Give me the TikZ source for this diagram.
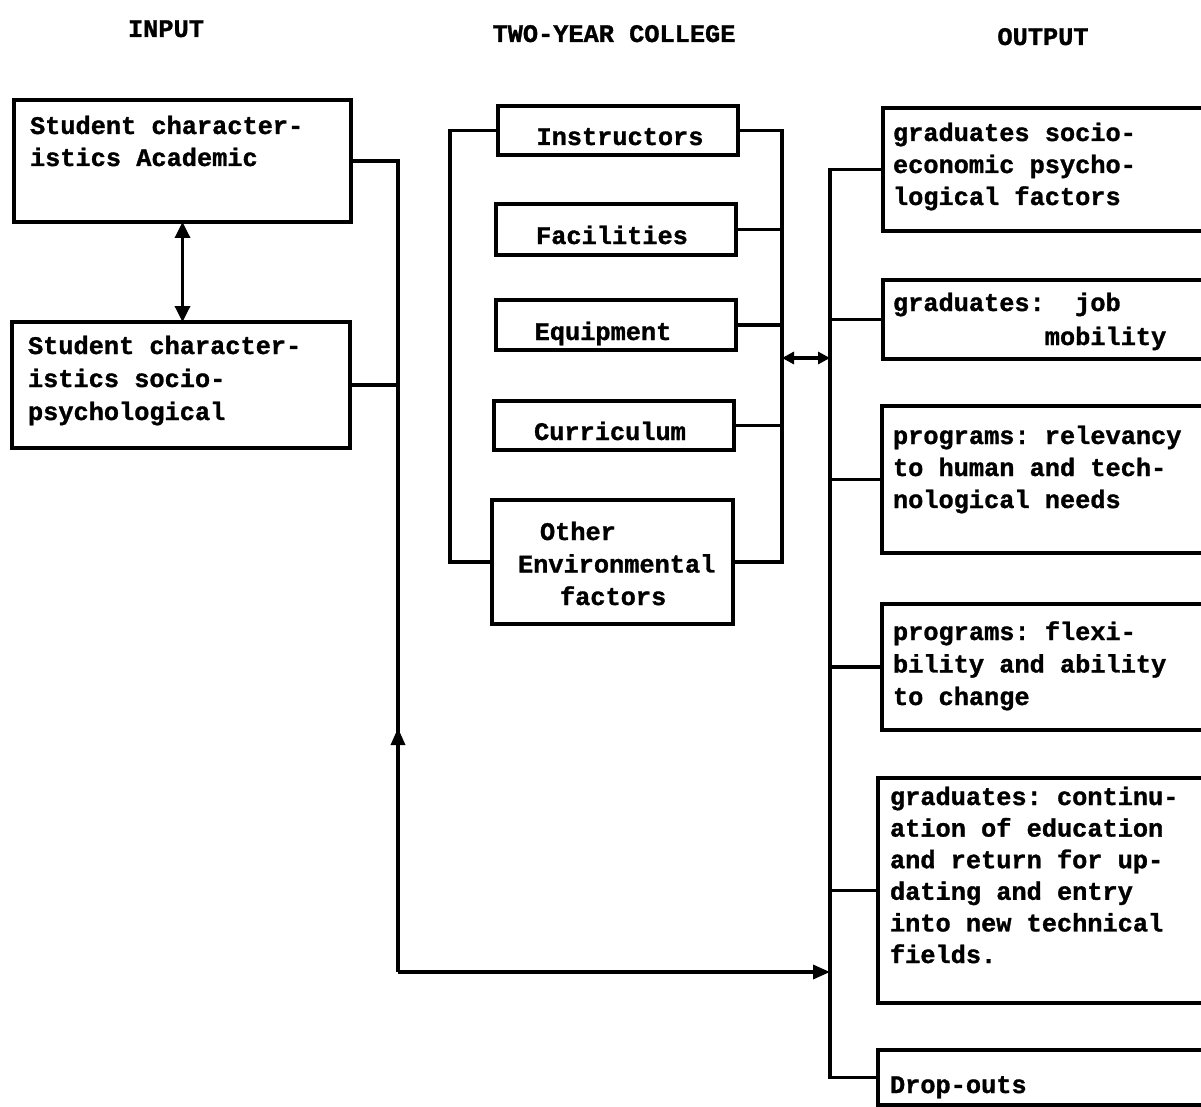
\documentclass[tikz,border=0pt]{standalone}
\usepackage{fontspec}
\newfontfamily\tw{Liberation Mono}[BoldFeatures={FakeBold=1.2}]
\usetikzlibrary{arrows.meta,calc}
\frenchspacing
\begin{document}
\begin{tikzpicture}[x=1pt,y=-1pt,
  every node/.style={inner sep=0pt, outer sep=0pt},
  box/.style={draw, line width=3.8pt, rectangle, anchor=north west},
  wire/.style={line width=3.4pt},
  tip/.style={-{Triangle[length=17pt,width=14pt]}},
  bitip/.style={{Triangle[length=16pt,width=15pt]}-{Triangle[length=16pt,width=15pt]}},
  smalltips/.style={{Triangle[length=12pt,width=12pt]}-{Triangle[length=12pt,width=12pt]}},
  % multi-line labels are anchored at the baseline of their last line
  txt/.style={font=\tw\bfseries\fontsize{25.3}{32}\selectfont\frenchspacing, align=left, anchor=base west},
  ctxt/.style={font=\tw\bfseries\fontsize{25.3}{32}\selectfont, anchor=base},
  head/.style={font=\tw\bfseries\fontsize{25.3}{32}\selectfont, anchor=base}
]
\useasboundingbox (0,0) rectangle (1201,1107);
\fill[white] (0,0) rectangle (1201,1107);
\clip (0,0) rectangle (1201,1107);

% column headings
\node[head] (hin)  at (166,37) {INPUT};
\node[head] (hcol) at (614,42) {TWO-YEAR COLLEGE};
\node[head] (hout) at (1043,45) {OUTPUT};

% input boxes
\node[box, minimum width=337pt, minimum height=122pt] (A) at (14,100) {};
\node[box, minimum width=338pt, minimum height=126pt] (B) at (12,322) {};
\node[txt] (tA) at (30,166) {Student character-\\istics Academic};
\node[txt, font=\tw\bfseries\fontsize{25.3}{33}\selectfont] (tB) at (28,420) {Student character-\\istics socio-\\psychological};

% college boxes
\node[box, minimum width=240pt, minimum height=49pt]  (Ins) at (498,106) {};
\node[box, minimum width=240pt, minimum height=51pt]  (Fac) at (496,204) {};
\node[box, minimum width=240pt, minimum height=50pt]  (Equ) at (496,300) {};
\node[box, minimum width=240pt, minimum height=49pt]  (Cur) at (494,401) {};
\node[box, minimum width=241pt, minimum height=124pt] (Oth) at (492,500) {};
\node[ctxt] (tIns) at (620,145) {Instructors};
\node[ctxt] (tFac) at (612,244) {Facilities};
\node[ctxt] (tEqu) at (603,340) {Equipment};
\node[ctxt] (tCur) at (610,440) {Curriculum};
\node[txt, font=\tw\bfseries\fontsize{25.3}{32.5}\selectfont] (tOth) at (518,605) {\hspace*{22pt}Other\\Environmental\\\hspace*{42pt}factors};

% output boxes
\node[box, minimum width=340pt, minimum height=123pt] (R1) at (883,108) {};
\node[box, minimum width=340pt, minimum height=79pt]  (R2) at (883,280) {};
\node[box, minimum width=340pt, minimum height=147pt] (R3) at (882,406) {};
\node[box, minimum width=340pt, minimum height=126pt] (R4) at (882,604) {};
\node[box, minimum width=340pt, minimum height=225pt] (R5) at (878,778) {};
\node[box, minimum width=340pt, minimum height=55pt]  (R6) at (878,1050) {};
\node[txt] (tR1) at (893,205) {graduates socio-\\economic psycho-\\logical factors};
\node[txt, font=\tw\bfseries\fontsize{25.3}{34}\selectfont] (tR2) at (893,345) {graduates:\ \ job\\\hspace*{151.8pt}mobility};
\node[txt] (tR3) at (893,508) {programs: relevancy\\to human and tech-\\nological needs};
\node[txt, font=\tw\bfseries\fontsize{25.3}{32.5}\selectfont] (tR4) at (893,705) {programs: flexi-\\bility and ability\\to change};
\node[txt, font=\tw\bfseries\fontsize{25.3}{31.6}\selectfont] (tR5) at (890,963) {graduates: continu-\\ation of education\\and return for up-\\dating and entry\\into new technical\\fields.};
\node[txt] (tR6) at (890,1093) {Drop-outs};

% junction points of the connectors
\coordinate (tin) at (398,972);
\coordinate (tup) at (398,728);
\coordinate (lb)  at (450,300);
\coordinate (rb)  at (782,358);
\coordinate (otr) at (830,358);

% input side
\draw[wire, bitip] (A.south) -- (A.south |- B.north);
\draw[wire] (A.east) -| (tin);
\draw[wire] (B.east) -- (B.east -| tin);
\draw[wire, tip] (tin) -- (tup);
\draw[wire, tip] (tin) -- (tin -| otr);

% college brackets
\draw[wire] (Ins.west) -- (Ins.west -| lb) -- (Oth.west -| lb) -- (Oth.west);
\draw[wire] (Ins.east) -- (Ins.east -| rb) -- (Oth.east -| rb) -- (Oth.east);
\draw[wire] (Fac.east) -- (Fac.east -| rb);
\draw[wire] (Equ.east) -- (Equ.east -| rb);
\draw[wire] (Cur.east) -- (Cur.east -| rb);
\draw[wire, smalltips] (rb) -- (otr);

% output trunk
\draw[wire] (R1.west) -- (R1.west -| otr) -- (R6.west -| otr) -- (R6.west);
\draw[wire] (R2.west) -- (R2.west -| otr);
\draw[wire] (R3.west) -- (R3.west -| otr);
\draw[wire] (R4.west) -- (R4.west -| otr);
\draw[wire] (R5.west) -- (R5.west -| otr);
\end{tikzpicture}
\end{document}
